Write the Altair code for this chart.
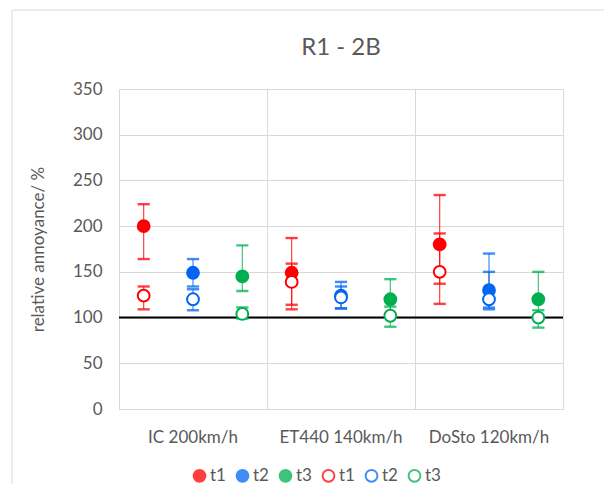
import altair as alt
import pandas as pd

categories = ["IC 200km/h", "ET440 140km/h", "DoSto 120km/h"]
series = ["t1", "t2", "t3"]

# filled markers: value, lower, upper (per category, per series)
filled_val = [[200, 149, 145], [149, 124, 120], [180, 130, 120]]
filled_lo = [[164, 134, 129], [114, 110, 100], [137, 111, 100]]
filled_hi = [[224, 164, 179], [187, 139, 142], [234, 170, 150]]

# open markers
open_val = [[124, 120, 104], [139, 122, 102], [150, 120, 100]]
open_lo = [[109, 108, 99], [109, 110, 90], [115, 109, 89]]
open_hi = [[134, 131, 111], [159, 134, 112], [192, 150, 108]]

reference_line = [100]

colors = {"t1": "#FF0000", "t2": "#0066F2", "t3": "#00B050"}

rows = []
for kind, vals, los, his in [("f", filled_val, filled_lo, filled_hi),
                             ("o", open_val, open_lo, open_hi)]:
    for ci, cat in enumerate(categories):
        for si, s in enumerate(series):
            rows.append({"category": cat, "series": s, "key": f"{s}|{kind}",
                         "value": vals[ci][si], "lo": los[ci][si], "hi": his[ci][si]})
df = pd.DataFrame(rows)

keys = [f"{s}|f" for s in series] + [f"{s}|o" for s in series]
stroke_range = [colors[s] for s in series] * 2
fill_range = [colors[s] for s in series] + ["#FFFFFF"] * 3

FONT = "Lato"
GREY = "#595959"

x_enc = alt.X("category:N", sort=categories,
              scale=alt.Scale(domain=categories, paddingInner=0, paddingOuter=0),
              axis=alt.Axis(title=None, labelAngle=0, ticks=False, domain=False,
                            grid=True, bandPosition=0, gridColor="#D9D9D9",
                            labelPadding=20, labelFontSize=17, labelColor=GREY,
                            labelFont=FONT))
xo_enc = alt.XOffset("series:N", scale=alt.Scale(domain=series, paddingInner=0, paddingOuter=0))
y_scale = alt.Scale(domain=[0, 350], nice=False)

legend = alt.Legend(title=None, orient="none", legendX=72, legendY=378,
                    direction="horizontal", columns=6,
                    labelExpr="split(datum.label, '|')[0]", labelFontSize=17,
                    labelColor=GREY, labelFont=FONT, symbolSize=140,
                    symbolStrokeWidth=2, columnPadding=6, labelOffset=2,
                    labelLimit=60)
stroke_enc = alt.Stroke("key:N", scale=alt.Scale(domain=keys, range=stroke_range), legend=legend)
fill_enc = alt.Fill("key:N", scale=alt.Scale(domain=keys, range=fill_range), legend=legend)

base = alt.Chart(df)

border = alt.Chart(alt.Data(values=[{}])).mark_rect(
    fill=None, stroke="#D9D9D9", strokeWidth=1).encode(
    x=alt.value(-107), x2=alt.value(800), y=alt.value(-79), y2=alt.value(800))

line100 = alt.Chart(pd.DataFrame({"v": reference_line})).mark_rule(
    color="black", strokeWidth=2).encode(y=alt.Y("v:Q", scale=y_scale))

err = base.mark_rule(strokeWidth=1.2, opacity=0.75).encode(
    x=x_enc, xOffset=xo_enc,
    y=alt.Y("lo:Q", scale=y_scale,
            axis=alt.Axis(values=[0, 50, 100, 150, 200, 250, 300, 350],
                          title="relative annoyance/ %", ticks=False, domain=False,
                          gridColor="#D9D9D9", labelPadding=17, labelFontSize=17,
                          labelColor=GREY, labelFont=FONT, titleFont=FONT,
                          titleFontSize=17, titleFontWeight="normal",
                          titleColor=GREY, titlePadding=25)),
    y2="hi:Q",
    stroke=stroke_enc)

cap_lo = base.mark_tick(orient="horizontal", size=11, thickness=1.2, opacity=0.75,
                        filled=False, strokeWidth=1.2).encode(
    x=x_enc, xOffset=xo_enc, y=alt.Y("lo:Q", scale=y_scale), stroke=stroke_enc)
cap_hi = base.mark_tick(orient="horizontal", size=11, thickness=1.2, opacity=0.75,
                        filled=False, strokeWidth=1.2).encode(
    x=x_enc, xOffset=xo_enc, y=alt.Y("hi:Q", scale=y_scale), stroke=stroke_enc)

pts = base.mark_point(size=140, strokeWidth=2, opacity=1).encode(
    x=x_enc, xOffset=xo_enc, y=alt.Y("value:Q", scale=y_scale),
    stroke=stroke_enc, fill=fill_enc)

chart = alt.layer(border, line100, err, cap_lo, cap_hi, pts).properties(
    width=444, height=320,
    title=alt.TitleParams("R1 - 2B", fontSize=24, font=FONT, color=GREY,
                          fontWeight="normal", anchor="middle", frame="group",
                          offset=-50),
    autosize=alt.AutoSizeParams(type="none"),
    padding={"left": 111, "top": 81, "right": 41, "bottom": 75},
).configure_view(stroke="#D9D9D9")

chart.save("out.html", embed_options={"renderer": "svg", "actions": False})
